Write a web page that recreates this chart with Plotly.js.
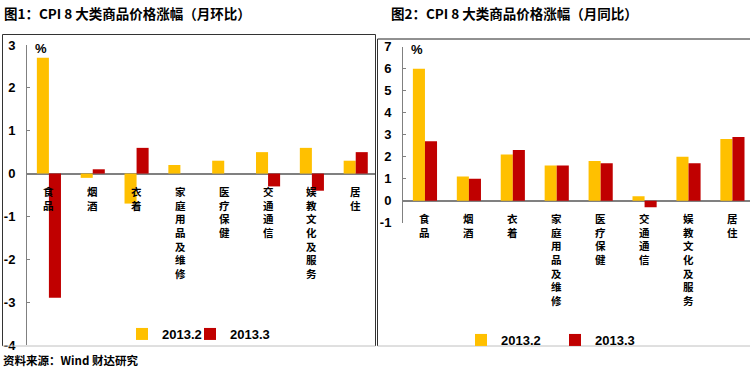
<!DOCTYPE html>
<html><head><meta charset="utf-8">
<script src="https://cdn.plot.ly/plotly-3.0.1.min.js"></script>
<style>html,body{margin:0;padding:0;background:#fff}#chart{width:750px;height:370px}</style>
</head><body><div id="chart"></div>
<script>
// ---- data ----
const categories = ['食品','烟酒','衣着','家庭用品及维修','医疗保健','交通通信','娱教文化及服务','居住'];
const seriesNames = ['2013.2','2013.3'];
const momFeb = [2.7, -0.1, -0.7, 0.2, 0.3, 0.5, 0.6, 0.3];
const momMar = [-2.9, 0.1, 0.6, 0.0, 0.0, -0.3, -0.4, 0.5];
const yoyFeb = [6.0, 1.1, 2.1, 1.6, 1.8, 0.2, 2.0, 2.8];
const yoyMar = [2.7, 1.0, 2.3, 1.6, 1.7, -0.3, 1.7, 2.9];
const leftTicks = [-4, -3, -2, -1, 0, 1, 2, 3];
const rightTicks = [-1, 0, 1, 2, 3, 4, 5, 6, 7];
const titles = ['图1：CPI 8 大类商品价格涨幅（月环比）', '图2：CPI 8 大类商品价格涨幅（月同比）'];
const unitLabel = '%';
const sourceNote = '资料来源：Wind 财达研究';

// ---- styling ----
const W = 750, H = 370;
const px = v => v / W, py = v => 1 - v / H;
const colors = ['#FFC000', '#C00000'];
const numFont = {family: 'Liberation Sans Narrow, Liberation Sans, Arial, sans-serif', size: 13, color: '#000', weight: 700};
const cjkFont = {family: 'Noto Sans CJK SC, sans-serif', size: 10.5, color: '#000', weight: 700};
const titleFont = {family: 'Noto Sans CJK SC, sans-serif', size: 13.5, color: '#000', weight: 700};

const traces = [
  {type: 'bar', x: categories, y: momFeb, name: seriesNames[0], marker: {color: colors[0]}, xaxis: 'x', yaxis: 'y', legend: 'legend'},
  {type: 'bar', x: categories, y: momMar, name: seriesNames[1], marker: {color: colors[1]}, xaxis: 'x', yaxis: 'y', legend: 'legend2'},
  {type: 'bar', x: categories, y: yoyFeb, name: seriesNames[0], marker: {color: colors[0]}, xaxis: 'x2', yaxis: 'y2', legend: 'legend3'},
  {type: 'bar', x: categories, y: yoyMar, name: seriesNames[1], marker: {color: colors[1]}, xaxis: 'x2', yaxis: 'y2', legend: 'legend4'}
];

function yAxis(range, ticks, domain, anchor) {
  return {
    domain: domain, range: range, anchor: anchor, tickvals: ticks, ticktext: ticks.map(String),
    ticks: 'inside', ticklen: 3, tickcolor: '#808080', tickwidth: 1,
    showline: true, linecolor: '#808080', linewidth: 1,
    zeroline: true, zerolinecolor: '#808080', zerolinewidth: 2,
    showgrid: false, tickfont: numFont, ticklabelstandoff: 8, fixedrange: true
  };
}
function xAxis(range, domain, anchor) {
  return {domain: domain, range: range, anchor: anchor, type: 'category',
    showticklabels: false, ticks: '', showline: false, showgrid: false, zeroline: false, fixedrange: true};
}

const annotations = [];
// titles
annotations.push({xref: 'paper', yref: 'paper', x: px(2), y: py(13), xanchor: 'left', yanchor: 'middle', showarrow: false, text: titles[0], font: titleFont});
annotations.push({xref: 'paper', yref: 'paper', x: px(389), y: py(13), xanchor: 'left', yanchor: 'middle', showarrow: false, text: titles[1], font: titleFont});
// unit labels
const unitFont = {family: 'Liberation Sans, Arial, sans-serif', size: 13, color: '#000', weight: 700};
annotations.push({xref: 'paper', yref: 'paper', x: px(41), y: py(48), xanchor: 'center', yanchor: 'middle', showarrow: false, text: unitLabel, font: unitFont});
annotations.push({xref: 'paper', yref: 'paper', x: px(417), y: py(50), xanchor: 'center', yanchor: 'middle', showarrow: false, text: unitLabel, font: unitFont});
// source
annotations.push({xref: 'paper', yref: 'paper', x: px(1), y: 0, xanchor: 'left', yanchor: 'bottom', showarrow: false, text: sourceNote, font: {family: 'Noto Sans CJK SC, sans-serif', size: 11.5, color: '#000', weight: 700}});
// vertical category labels
[['x', 'y'], ['x2', 'y2']].forEach(([xr, yr]) => {
  categories.forEach(cat => {
    annotations.push({xref: xr, yref: yr, x: cat, y: 0, xanchor: 'center', yanchor: 'top',
      yshift: -8, showarrow: false, text: Array.from(cat).join('<br>'), font: cjkFont});
  });
});

const line = (x0, y0, x1, y1, c) => ({type: 'line', xref: 'paper', yref: 'paper', x0: px(x0), y0: py(y0), x1: px(x1), y1: py(y1), line: {color: c, width: 1}});
const shapes = [
  line(2.5, 34.5, 375.5, 34.5, '#333'),
  line(2.5, 34.5, 2.5, 346, '#333'),
  line(375.5, 34.5, 375.5, 346, '#333'),
  line(2.5, 346, 375.5, 346, '#c0c0c0'),
  line(377.5, 39, 750, 39, '#222'),
  line(377.5, 39, 377.5, 346, '#333'),
  line(377.5, 346, 750, 346, '#c0c0c0')
];

const legendBase = {orientation: 'h', xanchor: 'left', yanchor: 'middle', xref: 'paper', yref: 'paper',
  font: numFont, bgcolor: 'rgba(0,0,0,0)', itemwidth: 30, itemclick: false, itemdoubleclick: false};

const layout = {
  width: W, height: H, margin: {l: 0, r: 0, t: 0, b: 0}, autosize: false,
  paper_bgcolor: '#fff', plot_bgcolor: 'rgba(0,0,0,0)',
  barmode: 'group', bargap: 0.45, bargroupgap: 0, hovermode: false,
  xaxis: xAxis([-0.5, 7.44], [px(27), px(375)], 'y'),
  yaxis: yAxis([-4, 3], leftTicks, [py(345), py(45)], 'x'),
  xaxis2: xAxis([-0.5, 7.40], [px(403), 1], 'y2'),
  yaxis2: yAxis([-1, 7], rightTicks, [py(222.7), py(46.7)], 'x2'),
  legend: Object.assign({}, legendBase, {x: px(122), y: py(334)}),
  legend2: Object.assign({}, legendBase, {x: px(190), y: py(334)}),
  legend3: Object.assign({}, legendBase, {x: px(461), y: py(340)}),
  legend4: Object.assign({}, legendBase, {x: px(555), y: py(340)}),
  showlegend: true,
  annotations: annotations, shapes: shapes,
  font: {family: 'Liberation Sans, Arial, sans-serif'}
};

Plotly.newPlot('chart', traces, layout, {displayModeBar: false, staticPlot: true});
</script>
</body></html>
